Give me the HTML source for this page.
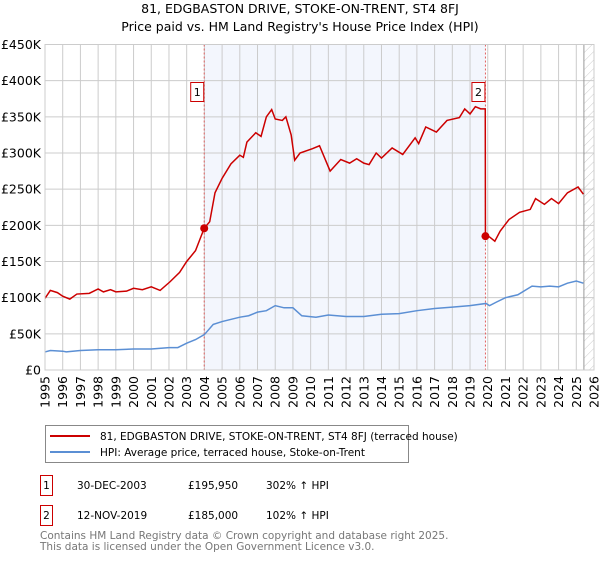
<!DOCTYPE html>
<html><head><meta charset="utf-8"><style>
body{margin:0;background:#fff;font-family:"Liberation Sans","DejaVu Sans",sans-serif;}
svg text{font-family:"DejaVu Sans","Liberation Sans",sans-serif;}
</style></head><body>
<svg id="chart" width="600" height="560" viewBox="0 0 600 560" xmlns="http://www.w3.org/2000/svg">
<defs>
<pattern id="hatch" patternUnits="userSpaceOnUse" width="6" height="6" patternTransform="rotate(45)">
<line x1="0" y1="0" x2="0" y2="6" stroke="#ccc" stroke-width="1"/>
</pattern>
</defs>
<text x="300" y="13" font-size="12.5" text-anchor="middle" fill="#000">81, EDGBASTON DRIVE, STOKE-ON-TRENT, ST4 8FJ</text>
<text x="300" y="31" font-size="12.5" text-anchor="middle" fill="#000">Price paid vs. HM Land Registry's House Price Index (HPI)</text>
<g id="plot"></g>
<g>
<rect x="45.5" y="425.5" width="363" height="37" fill="#fff" stroke="#888"/>
<line x1="50" y1="436" x2="90" y2="436" stroke="#cc0000" stroke-width="2"/>
<text x="100" y="440" font-size="10.5">81, EDGBASTON DRIVE, STOKE-ON-TRENT, ST4 8FJ (terraced house)</text>
<line x1="50" y1="452" x2="90" y2="452" stroke="#5b8fd4" stroke-width="2"/>
<text x="100" y="456" font-size="10.5">HPI: Average price, terraced house, Stoke-on-Trent</text>
</g>
<g font-size="10.5">
<rect x="40.5" y="475.5" width="12" height="20" fill="#fff" stroke="#cc0000"/>
<text x="46.5" y="489" text-anchor="middle">1</text>
<text x="77" y="489">30-DEC-2003</text>
<text x="188" y="489">£195,950</text>
<text x="266" y="489">302% ↑ HPI</text>
<rect x="40.5" y="505.5" width="12" height="20" fill="#fff" stroke="#cc0000"/>
<text x="46.5" y="519" text-anchor="middle">2</text>
<text x="77" y="519">12-NOV-2019</text>
<text x="188" y="519">£185,000</text>
<text x="266" y="519">102% ↑ HPI</text>
</g>
<text x="40" y="539" font-size="10.5" fill="#777">Contains HM Land Registry data © Crown copyright and database right 2025.</text>
<text x="40" y="550" font-size="10.5" fill="#777">This data is licensed under the Open Government Licence v3.0.</text>
</svg>
<script>
const hpiYears=[1995,1995.3,1996,1996.2,1997,1998,1999,2000,2001,2002,2002.5,2003,2003.5,2004,2004.5,2005,2006,2006.5,2007,2007.5,2008,2008.5,2009,2009.5,2010.3,2011,2012,2013,2014,2015,2016,2017,2018,2019,2019.9,2020.1,2020.5,2021,2021.7,2022.5,2023,2023.5,2024,2024.5,2025,2025.4];
const hpiValues=[25,27,26,25,27,28,28,29,29,31,31,37,42,49,63,67,73,75,80,82,89,86,86,75,73,76,74,74,77,78,82,85,87,89,92,89,94,100,104,116,115,116,115,120,123,120];
const propYears=[1995,1995.3,1995.7,1996,1996.4,1996.8,1997.5,1998,1998.3,1998.7,1999,1999.6,2000,2000.5,2001,2001.5,2002.06,2002.6,2003,2003.5,2003.99,2004.3,2004.6,2005,2005.5,2006,2006.2,2006.4,2006.9,2007.2,2007.5,2007.8,2008,2008.4,2008.6,2008.9,2009.1,2009.4,2010.1,2010.5,2011.1,2011.7,2012.2,2012.6,2013,2013.3,2013.7,2014,2014.6,2015.2,2015.9,2016.1,2016.5,2017.1,2017.7,2018.4,2018.7,2019,2019.3,2019.6,2019.86,2019.87,2020.1,2020.4,2020.7,2021.2,2021.8,2022.4,2022.7,2023.2,2023.6,2024,2024.5,2025.1,2025.4];
const propValues=[99,110,107,102,98,105,106,112,108,111,108,109,113,111,115,110,122,135,150,165,196,205,245,265,285,297,294,315,328,323,350,360,347,345,350,325,290,300,306,310,275,291,286,292,286,284,300,293,307,298,321,313,336,329,345,349,361,354,364,361,361,185,184,178,192,208,218,222,237,229,237,230,245,253,243];
const sales=[{year:2003.99,value:195.95,label:"1"},{year:2019.87,value:185,label:"2"}];
const yTicks=[0,50,100,150,200,250,300,350,400,450];
const yTickLabels=["£0","£50K","£100K","£150K","£200K","£250K","£300K","£350K","£400K","£450K"];
const xTicks=[1995,1996,1997,1998,1999,2000,2001,2002,2003,2004,2005,2006,2007,2008,2009,2010,2011,2012,2013,2014,2015,2016,2017,2018,2019,2020,2021,2022,2023,2024,2025,2026];
const dataEnd=2025.43;

const X0=45,X1=594,Y0=370,Y1=44.5;
const xs=y=>X0+(y-1995)/(2026-1995)*(X1-X0);
const ys=v=>Y0-v/450*(Y0-Y1);
const NS="http://www.w3.org/2000/svg";
const plot=document.getElementById('plot');
function mk(t,a,p){const e=document.createElementNS(NS,t);for(const k in a)e.setAttribute(k,a[k]);(p||plot).appendChild(e);return e;}

const bg=mk('rect',{x:X0,y:Y1,width:X1-X0,height:Y0-Y1,fill:'#fff'});


const shade=mk('rect',{x:xs(sales[0].year),y:Y1,width:xs(sales[1].year)-xs(sales[0].year),height:Y0-Y1,fill:'#f3f6fd'});


const hatch=mk('rect',{x:xs(dataEnd),y:Y1,width:X1-xs(dataEnd),height:Y0-Y1,fill:'url(#hatch)'});



yTicks.forEach((v,i)=>{
  const l=mk('line',{x1:X0,x2:X1,y1:ys(v),y2:ys(v),stroke:'#ccc','stroke-width':1});
  
  
  const t=mk('text',{x:X0-4,y:ys(v)+4.5,'font-size':12.5,'text-anchor':'end',fill:'#000'});
  t.textContent=yTickLabels[i];
  
  
});
xTicks.forEach(yr=>{
  const l=mk('line',{x1:xs(yr),x2:xs(yr),y1:Y1,y2:Y0,stroke:'#ccc','stroke-width':1});
  
  
  const t=mk('text',{x:0,y:0,'font-size':12.5,'text-anchor':'end',transform:`translate(${xs(yr)+4.5},376) rotate(-90)`});
  t.textContent=yr;
  
  
});
const el=mk('line',{x1:xs(dataEnd),x2:xs(dataEnd),y1:Y1,y2:Y0,stroke:'#999','stroke-width':1});



sales.forEach(s=>{
  const l=mk('line',{x1:xs(s.year),x2:xs(s.year),y1:Y1,y2:Y0,stroke:'#e06060','stroke-width':1,'stroke-dasharray':'2,2'});
  
  
});

const hp=mk('polyline',{points:hpiYears.map((y,i)=>xs(y)+','+ys(hpiValues[i])).join(' '),fill:'none',stroke:'#5b8fd4','stroke-width':1.5});


const pp=mk('polyline',{points:propYears.map((y,i)=>xs(y)+','+ys(propValues[i])).join(' '),fill:'none',stroke:'#cc0000','stroke-width':1.5});



sales.forEach(s=>{
  const c=mk('circle',{cx:xs(s.year),cy:ys(s.value),r:4,fill:'#cc0000'});
  
  
  const r=mk('rect',{x:xs(s.year)-13.5,y:82.5,width:13,height:19,fill:'#fff',stroke:'#cc0000'});
  
  
  const t=mk('text',{x:xs(s.year)-7,y:96,'font-size':11,'text-anchor':'middle'});
  t.textContent=s.label;
  
  
});
const fr=mk('rect',{x:X0,y:Y1,width:X1-X0,height:Y0-Y1,fill:'none',stroke:'#ccc'});


</script>
</body></html>
